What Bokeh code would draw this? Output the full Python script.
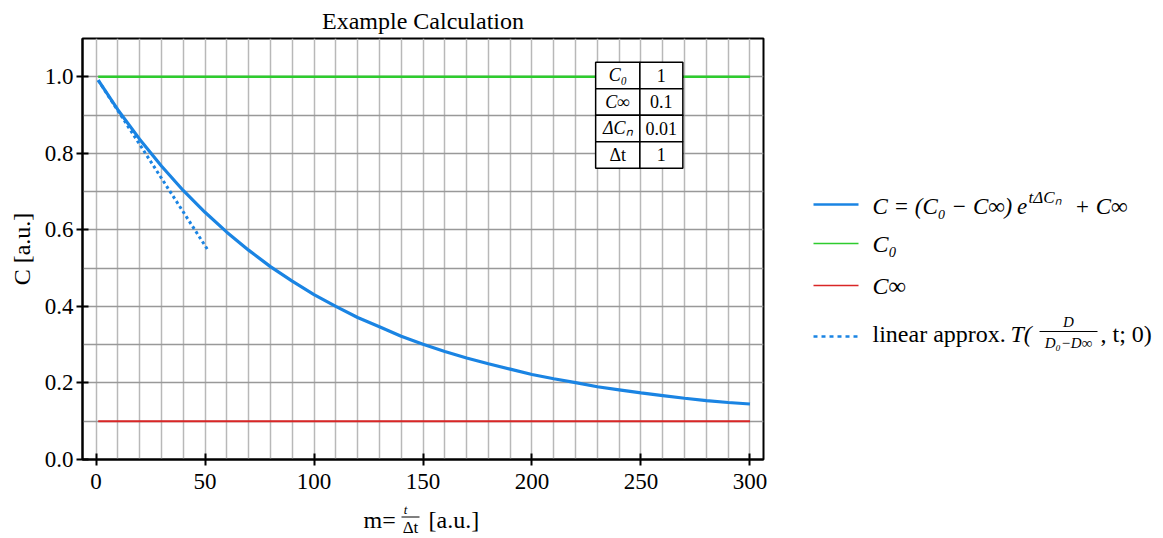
from bokeh.plotting import figure
from bokeh.layouts import row, column
from bokeh.models import Range1d, FixedTicker, ColumnDataSource, CustomJSTickFormatter
from bokeh.core.properties import value
from bokeh.embed import file_html
from bokeh.resources import INLINE

# ---------------- data ----------------
m_values = [1, 10, 20, 30, 40, 50, 60, 70, 80, 90, 100, 110, 120, 130, 140, 150,
            160, 170, 180, 190, 200, 210, 220, 230, 240, 250, 260, 270, 280, 290, 300]
c_values = [0.991, 0.914, 0.837, 0.767, 0.703, 0.646, 0.594, 0.547, 0.504, 0.466, 0.431,
            0.400, 0.371, 0.347, 0.322, 0.301, 0.282, 0.265, 0.250, 0.236, 0.222,
            0.211, 0.201, 0.190, 0.182, 0.174, 0.167, 0.160, 0.154, 0.149, 0.145]
approx_m = [1, 51]
approx_c = [0.991, 0.550]
c0_m = [1, 300]
c0_c = [1.0, 1.0]
cinf_m = [1, 300]
cinf_c = [0.1, 0.1]
x_ticks = [0, 50, 100, 150, 200, 250, 300]
y_ticks = [0.0, 0.2, 0.4, 0.6, 0.8, 1.0]
x_grid = list(range(0, 301, 10))
y_grid = [0.1, 0.2, 0.3, 0.4, 0.5, 0.6, 0.7, 0.8, 0.9, 1.0]
table_names = ["C₀", "C∞", "ΔCₙ", "Δt"]
table_values = ["1", "0.1", "0.01", "1"]

SERIF = "Liberation Serif"
BLUE = "#1a84e3"
GREEN = "#2ecc2e"
RED = "#d92626"

FW, FH = 681, 421
BL, BR, BT, BB = 82, 20, 38, 42

# ---------------- main plot ----------------
p = figure(frame_width=FW, frame_height=FH,
           x_range=Range1d(-6.2, 306.2), y_range=Range1d(0, 1.1),
           output_backend="svg", toolbar_location=None,
           title="Example Calculation",
           min_border_left=BL, min_border_right=BR, min_border_top=BT, min_border_bottom=BB,
           background_fill_color="white", border_fill_color="white")

p.title.align = "center"
p.title.text_font = SERIF
p.title.text_font_size = "24px"
p.title.text_font_style = "normal"
p.title.text_color = "black"

p.outline_line_color = "black"
p.outline_line_width = 2
p.outline_line_alpha = 1

for ax in (p.xaxis, p.yaxis):
    ax.axis_line_width = 2
    ax.axis_line_color = "black"
    ax.major_tick_line_color = "black"
    ax.major_tick_line_width = 2
    ax.major_tick_in = 6
    ax.major_tick_out = 6
    ax.minor_tick_line_color = None
    ax.major_label_text_font = SERIF
    ax.major_label_text_font_size = "23px"
    ax.major_label_text_color = "black"
    ax.axis_label_text_font = SERIF
    ax.axis_label_text_font_size = "24px"
    ax.axis_label_text_font_style = "normal"
    ax.axis_label_text_color = "black"

p.xaxis.ticker = FixedTicker(ticks=x_ticks)
p.yaxis.ticker = FixedTicker(ticks=y_ticks)
p.yaxis.formatter = CustomJSTickFormatter(code="return tick.toFixed(1);")
p.xaxis.major_label_standoff = 8
p.yaxis.major_label_standoff = 3
p.yaxis.axis_label = "C [a.u.]"
p.yaxis.axis_label_standoff = 7

p.xgrid.ticker = FixedTicker(ticks=x_grid)
p.ygrid.ticker = FixedTicker(ticks=y_grid)
p.xgrid.grid_line_color = "#b8b8b8"
p.xgrid.grid_line_width = 1.5
p.ygrid.grid_line_color = "#999999"
p.ygrid.grid_line_width = 1.5

p.line(c0_m, c0_c, line_color=GREEN, line_width=2.5)
p.line(cinf_m, cinf_c, line_color=RED, line_width=1.8)
p.line(m_values, c_values, line_color=BLUE, line_width=3.2)
p.line(approx_m, approx_c, line_color=BLUE, line_width=3, line_dash="3 3")

# parameter table (upper right of the plot)
tbl_top = 1.038
row_h = 0.0692
col_edges = [229.2, 249.5, 269.2]
n = len(table_names)
tops = [tbl_top - i * row_h for i in range(n)]
bottoms = [t - row_h for t in tops]
mids = [t - row_h / 2 for t in tops]
p.quad(left=[col_edges[0]] * n, right=[col_edges[1]] * n, top=tops, bottom=bottoms,
       fill_color="white", line_color="black", line_width=1.5)
p.quad(left=[col_edges[1]] * n, right=[col_edges[2]] * n, top=tops, bottom=bottoms,
       fill_color="white", line_color="black", line_width=1.5)
name_styles = ["italic", "italic", "italic", "normal"]
src_names = ColumnDataSource(dict(x=[(col_edges[0] + col_edges[1]) / 2] * n, y=mids,
                                  text=table_names, style=name_styles))
p.text(x="x", y="y", text="text", source=src_names, text_align="center",
       text_baseline="middle", text_font=value(SERIF), text_font_size="18px",
       text_font_style="style", text_color="black")
p.text(x=[(col_edges[1] + col_edges[2]) / 2] * n, y=mids, text=table_values,
       text_align="center", text_baseline="middle", text_font=value(SERIF),
       text_font_size="18px", text_color="black")

# ---------------- x-axis label strip:  m = t/Δt [a.u.] ----------------
XH = 36
xl = figure(frame_width=FW, frame_height=XH, x_range=Range1d(0, FW), y_range=Range1d(XH, 0),
            output_backend="svg", toolbar_location=None,
            min_border_left=BL, min_border_right=BR, min_border_top=0, min_border_bottom=0,
            x_axis_location=None, y_axis_location=None,
            background_fill_color="white", border_fill_color="white")
xl.grid.visible = False
xl.outline_line_color = None
common = dict(text_baseline="middle", text_font=value(SERIF), text_color="black")
xl.text(x=[281], y=[18], text=["m="], text_font_size="24px", **common)
xl.text(x=[323], y=[8], text=["t"], text_font_size="13px", text_font_style="italic",
        text_align="center", **common)
xl.line([319, 337], [15.5, 15.5], line_color="black", line_width=1)
xl.text(x=[328], y=[26], text=["Δt"], text_font_size="17px", text_align="center", **common)
xl.text(x=[346], y=[18], text=["[a.u.]"], text_font_size="24px", **common)

# ---------------- legend panel ----------------
LW, LH = 378, 440
lg = figure(frame_width=LW, frame_height=LH, x_range=Range1d(0, LW), y_range=Range1d(LH, 0),
            output_backend="svg", toolbar_location=None,
            min_border_left=0, min_border_right=0, min_border_top=BT, min_border_bottom=0,
            x_axis_location=None, y_axis_location=None,
            background_fill_color="white", border_fill_color="white")
lg.grid.visible = False
lg.outline_line_color = None

sample_x = [30, 75]
row_y = [166, 205, 247, 298]
text_y = [168, 205, 247, 295]
tx = 89
lg.line(sample_x, [row_y[0]] * 2, line_color=BLUE, line_width=2.5)
lg.line(sample_x, [row_y[1]] * 2, line_color=GREEN, line_width=1.5)
lg.line(sample_x, [row_y[2]] * 2, line_color=RED, line_width=1.5)
lg.line(sample_x, [row_y[3]] * 2, line_color=BLUE, line_width=2.5, line_dash="4 4")

# row 1
lg.text(x=[tx], y=[text_y[0]], text=["C = (C₀ − C∞)\u2009e"], text_font_size="23px",
        text_font_style="italic", **common)
lg.text(x=[245], y=[text_y[0] - 9], text=["tΔCₙ"], text_font_size="17px",
        text_font_style="italic", **common)
lg.text(x=[291], y=[text_y[0]], text=["+ C∞"], text_font_size="23px",
        text_font_style="italic", **common)
# rows 2, 3
lg.text(x=[tx], y=[text_y[1]], text=["C₀"], text_font_size="24px",
        text_font_style="italic", **common)
lg.text(x=[tx], y=[text_y[2]], text=["C∞"], text_font_size="24px",
        text_font_style="italic", **common)
# row 4
lg.text(x=[tx], y=[text_y[3]], text=["linear approx."], text_font_size="24px", **common)
lg.text(x=[227], y=[text_y[3]], text=["T("], text_font_size="24px",
        text_font_style="italic", **common)
lg.text(x=[285], y=[text_y[3] - 12], text=["D"], text_font_size="15px",
        text_font_style="italic", text_align="center", **common)
lg.line([256, 314], [text_y[3] - 2] * 2, line_color="black", line_width=1)
lg.text(x=[285], y=[text_y[3] + 9], text=["D₀−D∞"], text_font_size="15px",
        text_font_style="italic", text_align="center", **common)
lg.text(x=[317], y=[text_y[3]], text=[", t; 0)"], text_font_size="24px", **common)

layout = row(column(p, xl), lg)
open("out.html", "w").write(file_html(layout, INLINE))
